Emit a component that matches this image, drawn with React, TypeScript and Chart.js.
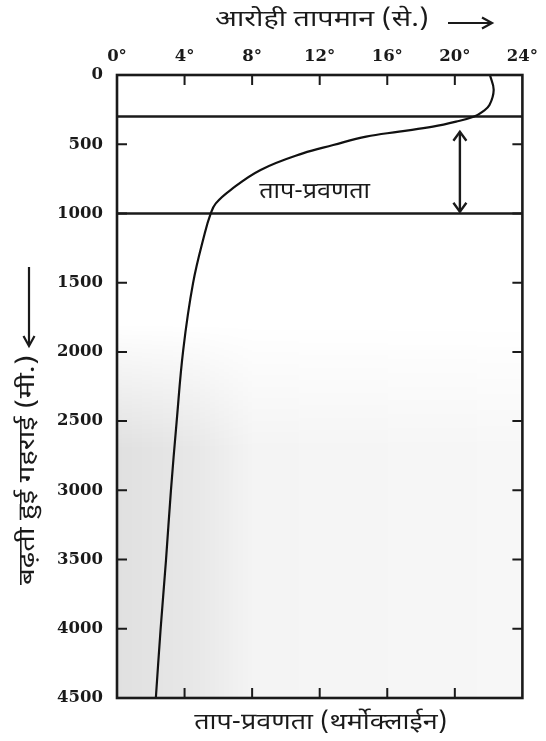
import React, { useEffect, useRef } from "react";
import { Chart, registerables } from "chart.js";

Chart.register(...registerables);

// ---- data ----
const profileTemps = [22.08, 22.3, 22.05, 21.65, 21.15, 20.07, 18.7, 16.7, 14.75, 12.8, 11.0, 8.5, 6.72, 5.85, 5.55, 5.2, 4.5, 3.92, 3.53, 3.19, 2.9, 2.58, 2.3];
const profileDepths = [0, 108, 217, 265, 300, 337, 373, 409, 445, 506, 566, 686, 831, 927, 1000, 1142, 1505, 1987, 2505, 3006, 3505, 4005, 4500];
const thermoclineBounds = [300, 1000];
const tempRange = [0, 24];
const depthRange = [0, 4500];
const tempStep = 4;
const depthStep = 500;
const arrowTemp = 20.3;
const arrowDepths = [410, 988];
const labelPos = [11.7, 860];

const topTitle = "आरोही तापमान (से.)";
const leftTitle = "बढ़ती हुई गहराई (मी.)";
const bottomTitle = "ताप-प्रवणता (थर्मोक्लाईन)";
const innerLabel = "ताप-प्रवणता";

const HINDI = "'Noto Sans Devanagari', 'Noto Sans', 'Lohit Devanagari', sans-serif";
const INK = "#1a1a1a";

function arrowHead(ctx: CanvasRenderingContext2D, x: number, y: number, dir: "up" | "down" | "right", s = 7, l = 9) {
  ctx.beginPath();
  if (dir === "up") {
    ctx.moveTo(x - s, y + l); ctx.lineTo(x, y); ctx.lineTo(x + s, y + l);
  } else if (dir === "down") {
    ctx.moveTo(x - s, y - l); ctx.lineTo(x, y); ctx.lineTo(x + s, y - l);
  } else {
    ctx.moveTo(x - l, y - s); ctx.lineTo(x, y); ctx.lineTo(x - l, y + s);
  }
  ctx.stroke();
}

// draw centred text stretched horizontally to a given width
function fitText(ctx: CanvasRenderingContext2D, text: string, cx: number, cy: number, width: number) {
  const m = ctx.measureText(text).width;
  const k = width / m;
  ctx.save();
  ctx.translate(cx, cy);
  ctx.scale(k, 1);
  ctx.fillText(text, 0, 0);
  ctx.restore();
}

const decorPlugin = {
  id: "decor",
  beforeDatasetsDraw(chart: any) {
    const { ctx, chartArea: a } = chart;
    const yS = chart.scales.y;
    const w = Math.round(a.right - a.left);
    const h = Math.round(a.bottom - a.top);
    const off = document.createElement("canvas");
    off.width = w; off.height = h;
    const o = off.getContext("2d")!;
    const hg = o.createLinearGradient(0, 0, w, 0);
    hg.addColorStop(0, "rgba(0,0,0,0.12)");
    hg.addColorStop(0.2, "rgba(0,0,0,0.09)");
    hg.addColorStop(0.34, "rgba(0,0,0,0.045)");
    hg.addColorStop(1, "rgba(0,0,0,0.03)");
    o.fillStyle = hg;
    o.fillRect(0, 0, w, h);
    o.globalCompositeOperation = "destination-in";
    const y0 = yS.getPixelForValue(1800) - a.top;
    const y1 = yS.getPixelForValue(2700) - a.top;
    const vg = o.createLinearGradient(0, y0, 0, y1);
    vg.addColorStop(0, "rgba(0,0,0,0)");
    vg.addColorStop(1, "rgba(0,0,0,1)");
    o.fillStyle = vg;
    o.fillRect(0, 0, w, h);
    ctx.save();
    ctx.drawImage(off, a.left, a.top);
    ctx.restore();
  },
  afterDatasetsDraw(chart: any) {
    const { ctx, chartArea: a } = chart;
    const xS = chart.scales.x;
    const yS = chart.scales.y;
    ctx.save();
    ctx.strokeStyle = INK;
    ctx.lineCap = "butt";
    ctx.lineWidth = 2;
    const tl = 10;
    for (let t = tempRange[0] + tempStep; t < tempRange[1]; t += tempStep) {
      const x = xS.getPixelForValue(t);
      ctx.beginPath();
      ctx.moveTo(x, a.top); ctx.lineTo(x, a.top + tl);
      ctx.moveTo(x, a.bottom); ctx.lineTo(x, a.bottom - tl);
      ctx.stroke();
    }
    for (let d = depthRange[0] + depthStep; d < depthRange[1]; d += depthStep) {
      const y = yS.getPixelForValue(d);
      ctx.beginPath();
      ctx.moveTo(a.left, y); ctx.lineTo(a.left + tl, y);
      ctx.moveTo(a.right, y); ctx.lineTo(a.right - tl, y);
      ctx.stroke();
    }
    ctx.lineWidth = 2.6;
    ctx.strokeRect(a.left, a.top, a.right - a.left, a.bottom - a.top);
    const ax = xS.getPixelForValue(arrowTemp);
    const ay1 = yS.getPixelForValue(arrowDepths[0]);
    const ay2 = yS.getPixelForValue(arrowDepths[1]);
    ctx.lineWidth = 2.4;
    ctx.beginPath();
    ctx.moveTo(ax, ay1); ctx.lineTo(ax, ay2);
    ctx.stroke();
    arrowHead(ctx, ax, ay1, "up", 6.5, 9);
    arrowHead(ctx, ax, ay2, "down", 6.5, 9);
    ctx.fillStyle = INK;
    ctx.font = `22px ${HINDI}`;
    ctx.textAlign = "center";
    ctx.textBaseline = "middle";
    fitText(ctx, innerLabel, xS.getPixelForValue(labelPos[0]), yS.getPixelForValue(labelPos[1]), 111);
    ctx.restore();
  },
  afterDraw(chart: any) {
    const { ctx, chartArea: a } = chart;
    ctx.save();
    ctx.fillStyle = INK;
    ctx.strokeStyle = INK;
    ctx.font = `23px ${HINDI}`;
    ctx.textAlign = "center";
    ctx.textBaseline = "middle";
    fitText(ctx, topTitle, 322, 22, 214);
    ctx.lineWidth = 2.2;
    ctx.beginPath();
    ctx.moveTo(448, 23); ctx.lineTo(491, 23);
    ctx.stroke();
    arrowHead(ctx, 492, 23, "right", 5.5, 10);
    fitText(ctx, bottomTitle, (a.left + a.right) / 2 + 1, 725, 253);
    ctx.save();
    ctx.translate(30, 470);
    ctx.rotate(-Math.PI / 2);
    fitText(ctx, leftTitle, 0, 0, 230);
    ctx.restore();
    ctx.lineWidth = 2.2;
    ctx.beginPath();
    ctx.moveTo(29, 267); ctx.lineTo(29, 345);
    ctx.stroke();
    arrowHead(ctx, 29, 346, "down", 5.5, 10);
    ctx.restore();
  },
};

export default function App() {
  const ref = useRef<HTMLCanvasElement | null>(null);
  useEffect(() => {
    document.body.style.margin = "0";
    const canvas = ref.current!;
    const tickFont = { family: "'DejaVu Serif', serif", size: 16.5, weight: "bold" as const };
    const chart = new Chart(canvas, {
      type: "line",
      data: {
        datasets: [
          {
            data: profileDepths.map((d, i) => ({ x: profileTemps[i], y: d })),
            borderColor: "#111",
            borderWidth: 2.2,
            pointRadius: 0,
            tension: 0.4,
            fill: false,
          },
          ...thermoclineBounds.map((d) => ({
            data: [
              { x: tempRange[0], y: d },
              { x: tempRange[1], y: d },
            ],
            borderColor: INK,
            borderWidth: 2.6,
            pointRadius: 0,
            tension: 0,
            fill: false,
          })),
        ] as any,
      },
      plugins: [decorPlugin],
      options: {
        animation: false,
        responsive: false,
        indexAxis: "y",
        layout: { padding: { left: 0, right: 22.5, top: 0, bottom: 43 } },
        plugins: { legend: { display: false }, tooltip: { enabled: false } },
        scales: {
          x: {
            type: "linear",
            position: "top",
            min: tempRange[0],
            max: tempRange[1],
            grid: { display: false, drawTicks: false },
            border: { display: false },
            ticks: {
              stepSize: tempStep,
              padding: 8,
              color: INK,
              font: tickFont,
              callback: (v: any) => `${v}°`,
            },
            afterFit: (s: any) => {
              s.height = 75;
            },
          },
          y: {
            type: "linear",
            position: "left",
            reverse: true,
            min: depthRange[0],
            max: depthRange[1],
            grid: { display: false, drawTicks: false },
            border: { display: false },
            ticks: {
              stepSize: depthStep,
              padding: 14,
              color: INK,
              font: tickFont,
              callback: (v: any) => `${v}`,
            },
            afterFit: (s: any) => {
              s.width = 117;
            },
          },
        },
      } as any,
    });
    return () => chart.destroy();
  }, []);
  return (
    <div style={{ width: 546, height: 741, background: "#fff" }}>
      <canvas ref={ref} width={546} height={741} style={{ display: "block", width: 546, height: 741 }} />
    </div>
  );
}
